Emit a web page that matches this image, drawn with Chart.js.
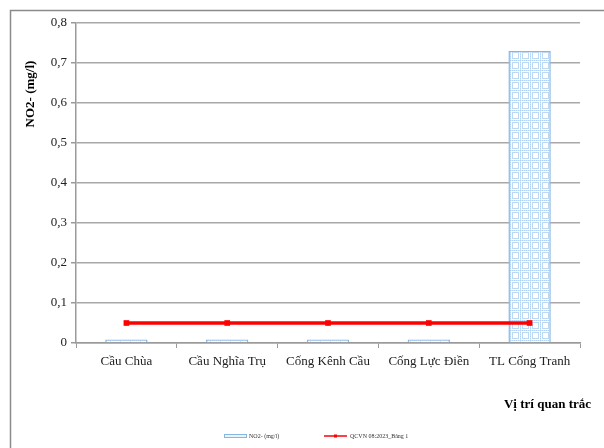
<!DOCTYPE html>
<html>
<head>
<meta charset="utf-8">
<script src="https://cdn.jsdelivr.net/npm/chart.js@4"></script>
<style>
  html, body { margin: 0; padding: 0; background: #fff; }
  #wrap { width: 604px; height: 448px; position: relative; }
</style>
</head>
<body>
<div id="wrap"><canvas id="c" width="604" height="448"></canvas></div>
<script>
// Monitoring stations
const categories = ['Cầu Chùa', 'Cầu Nghĩa Trụ', 'Cống Kênh Cầu', 'Cống Lực Điền', 'TL Cống Tranh'];
// Measured NO2- (mg/l)
const no2Values = [0.009, 0.009, 0.009, 0.009, 0.73];
// QCVN 08:2023 limit (Bảng 1)
const qcvnValues = [0.05, 0.05, 0.05, 0.05, 0.05];
// Y-axis ticks
const yTicks = [0, 0.1, 0.2, 0.3, 0.4, 0.5, 0.6, 0.7, 0.8];

const seriesNames = ['NO2- (mg/l)', 'QCVN 08:2023_Bảng 1'];
const yTitle = 'NO2- (mg/l)';
const xTitle = 'Vị trí quan trắc';

const SERIF = '"Liberation Serif", "Times New Roman", serif';
const BAR_EDGE = '#86b6e4';

// Light blue grid fill for the bars
function makeGridPattern() {
  const p = document.createElement('canvas');
  p.width = 10; p.height = 10;
  const g = p.getContext('2d');
  g.fillStyle = '#ffffff';
  g.fillRect(0, 0, 10, 10);
  g.fillStyle = '#b3d3f2';
  for (let i = 0; i < 10; i += 2) {
    g.fillRect(i, 0, 1, 1);
    g.fillRect(0, i, 1, 1);
  }
  g.fillStyle = '#d3e6f8';
  for (let i = 1; i < 10; i += 2) {
    g.fillRect(i, 0, 1, 1);
    g.fillRect(0, i, 1, 1);
  }
  g.strokeStyle = '#bcd8f3';
  g.lineWidth = 1;
  g.strokeRect(2.5, 2.5, 6, 6);
  return g.createPattern(p, 'repeat');
}

const framePlugin = {
  id: 'frame',
  beforeDraw(chart) {
    const ctx = chart.ctx;
    ctx.save();
    ctx.strokeStyle = '#8a8a8a';
    ctx.lineWidth = 1.5;
    ctx.beginPath();
    ctx.moveTo(10.5, 460);
    ctx.lineTo(10.5, 10.5);
    ctx.lineTo(620, 10.5);
    ctx.stroke();
    ctx.restore();
  },
  afterDraw(chart) {
    const ctx = chart.ctx;
    ctx.save();
    // Axis titles
    ctx.fillStyle = '#000';
    ctx.font = 'bold 13px ' + SERIF;
    ctx.textAlign = 'center';
    ctx.textBaseline = 'middle';
    ctx.save();
    ctx.translate(31, 94);
    ctx.rotate(-Math.PI / 2);
    ctx.fillText(yTitle, 0, 0);
    ctx.restore();
    ctx.textAlign = 'right';
    ctx.fillText(xTitle, 591, 405);

    // Legend
    const ly = 436;
    ctx.strokeStyle = BAR_EDGE;
    ctx.lineWidth = 1;
    ctx.fillStyle = '#eaf3fc';
    ctx.fillRect(224.5, ly - 1.5, 22, 3);
    ctx.strokeRect(224.5, ly - 1.5, 22, 3);
    ctx.fillStyle = '#333';
    ctx.font = '6px ' + SERIF;
    ctx.textAlign = 'left';
    ctx.fillText(seriesNames[0], 249, ly);

    ctx.strokeStyle = '#ff0000';
    ctx.lineWidth = 1.5;
    ctx.beginPath();
    ctx.moveTo(324, ly);
    ctx.lineTo(347, ly);
    ctx.stroke();
    ctx.fillStyle = '#ff0000';
    ctx.fillRect(334, ly - 1.5, 3, 3);
    ctx.fillStyle = '#333';
    ctx.fillText(seriesNames[1], 350, ly);
    ctx.restore();
  }
};

const ctx = document.getElementById('c').getContext('2d');
new Chart(ctx, {
  data: {
    labels: categories,
    datasets: [
      {
        type: 'line',
        label: seriesNames[1],
        data: qcvnValues,
        borderColor: '#ff0000',
        backgroundColor: '#ff0000',
        borderWidth: 3.5,
        pointStyle: 'rect',
        pointRadius: 4,
        pointBorderWidth: 0,
        pointBackgroundColor: '#ff0000',
        order: 0
      },
      {
        type: 'bar',
        label: seriesNames[0],
        data: no2Values,
        backgroundColor: makeGridPattern(),
        borderColor: BAR_EDGE,
        borderWidth: 1.5,
        barPercentage: 0.42,
        categoryPercentage: 1,
        order: 1
      }
    ]
  },
  plugins: [framePlugin],
  options: {
    responsive: false,
    animation: false,
    devicePixelRatio: 1,
    layout: { padding: { left: 0, right: 24, top: 23, bottom: 0 } },
    plugins: {
      legend: { display: false },
      tooltip: { enabled: false }
    },
    scales: {
      x: {
        offset: true,
        afterFit(s) { s.height = 105; },
        grid: {
          display: true,
          offset: true,
          drawOnChartArea: false,
          drawTicks: true,
          tickLength: 5,
          color: '#9a9a9a',
          lineWidth: 1
        },
        border: { display: true, color: '#9a9a9a', width: 1.5 },
        ticks: {
          color: '#222',
          font: { family: SERIF, size: 13 },
          padding: 6,
          maxRotation: 0,
          autoSkip: false
        }
      },
      y: {
        min: 0,
        max: 0.8,
        afterFit(s) { s.width = 76; },
        afterBuildTicks(s) { s.ticks = yTicks.map(v => ({ value: v })); },
        grid: {
          color: '#a8a8a8',
          lineWidth: 1.5,
          drawTicks: true,
          tickLength: 5,
          tickColor: '#9a9a9a'
        },
        border: { display: true, color: '#9a9a9a', width: 1.5 },
        ticks: {
          color: '#222',
          font: { family: SERIF, size: 13 },
          padding: 4,
          callback: v => v === 0 ? '0' : v.toFixed(1).replace('.', ',')
        }
      }
    }
  }
});
</script>
</body>
</html>
